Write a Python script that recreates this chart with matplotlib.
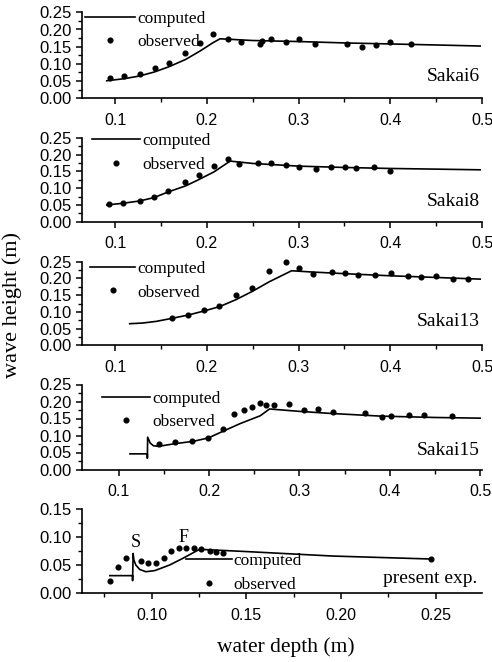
import matplotlib
matplotlib.use("Agg")
import matplotlib.pyplot as plt
from matplotlib.lines import Line2D
from matplotlib.ticker import MultipleLocator, FormatStrFormatter

# ---- data ----
s6_obs_x = [0.0946, 0.110, 0.127, 0.1435, 0.159, 0.1768, 0.1924, 0.207, 0.223, 0.237,
            0.258, 0.2605, 0.270, 0.286, 0.3007, 0.318, 0.353, 0.369, 0.3846, 0.400, 0.4225]
s6_obs_y = [0.060, 0.065, 0.071, 0.087, 0.102, 0.133, 0.160, 0.186, 0.173, 0.164,
            0.158, 0.166, 0.1715, 0.1645, 0.1715, 0.159, 0.159, 0.149, 0.154, 0.163, 0.158]
s6_comp_x = [0.091, 0.110, 0.127, 0.1435, 0.159, 0.177, 0.193, 0.207, 0.2145,
             0.25, 0.30, 0.35, 0.40, 0.45, 0.498]
s6_comp_y = [0.051, 0.057, 0.065, 0.077, 0.092, 0.113, 0.138, 0.162, 0.173,
             0.168, 0.165, 0.161, 0.158, 0.155, 0.152]

s8_obs_x = [0.0935, 0.109, 0.127, 0.1425, 0.158, 0.1767, 0.191, 0.2083, 0.2236, 0.2349,
            0.2556, 0.270, 0.286, 0.3007, 0.3192, 0.3355, 0.3508, 0.3628, 0.3828, 0.400]
s8_obs_y = [0.054, 0.056, 0.063, 0.073, 0.092, 0.120, 0.140, 0.166, 0.186, 0.171,
            0.174, 0.176, 0.169, 0.164, 0.157, 0.162, 0.164, 0.159, 0.162, 0.152]
s8_comp_x = [0.091, 0.1085, 0.127, 0.1425, 0.158, 0.177, 0.190, 0.208, 0.2254,
             0.25, 0.30, 0.35, 0.40, 0.45, 0.498]
s8_comp_y = [0.050, 0.055, 0.062, 0.072, 0.089, 0.107, 0.124, 0.149, 0.181,
             0.174, 0.166, 0.162, 0.159, 0.157, 0.155]

s13_obs_x = [0.1617, 0.180, 0.197, 0.213, 0.2318, 0.2496, 0.268, 0.286, 0.3004, 0.316,
             0.337, 0.3505, 0.365, 0.383, 0.4003, 0.4195, 0.434, 0.4497, 0.4686, 0.485]
s13_obs_y = [0.083, 0.092, 0.105, 0.118, 0.150, 0.173, 0.222, 0.248, 0.230, 0.213,
             0.218, 0.215, 0.210, 0.210, 0.215, 0.207, 0.203, 0.207, 0.198, 0.198]
s13_comp_x = [0.116, 0.13, 0.145, 0.162, 0.180, 0.197, 0.214, 0.232, 0.250, 0.268,
              0.2925, 0.316, 0.36, 0.40, 0.45, 0.498]
s13_comp_y = [0.065, 0.067, 0.072, 0.081, 0.091, 0.103, 0.116, 0.137, 0.162, 0.190,
              0.223, 0.219, 0.213, 0.208, 0.203, 0.198]

s15_obs_x = [0.1452, 0.1626, 0.1817, 0.1988, 0.216, 0.228, 0.239, 0.2475, 0.256, 0.2633,
             0.2714, 0.289, 0.3047, 0.3206, 0.3368, 0.373, 0.3915, 0.4014, 0.4217, 0.4375, 0.469]
s15_obs_y = [0.075, 0.080, 0.083, 0.093, 0.118, 0.163, 0.176, 0.184, 0.195, 0.191,
             0.191, 0.193, 0.175, 0.178, 0.170, 0.165, 0.155, 0.158, 0.161, 0.161, 0.158]
s15_comp_x = [0.1127, 0.1319, 0.1319, 0.1322, 0.135, 0.1385, 0.144, 0.1626, 0.183, 0.1995,
              0.216, 0.2345, 0.2567, 0.267, 0.30, 0.334, 0.39, 0.45, 0.50]
s15_comp_y = [0.046, 0.046, 0.033, 0.095, 0.078, 0.070, 0.068, 0.076, 0.083, 0.093,
              0.113, 0.135, 0.158, 0.178, 0.171, 0.165, 0.157, 0.153, 0.151]

exp_obs_x = [0.0781, 0.0824, 0.0865, 0.0944, 0.0982, 0.1026, 0.1066, 0.1105, 0.1145,
             0.1184, 0.1223, 0.1263, 0.1307, 0.1342, 0.138, 0.2474]
exp_obs_y = [0.021, 0.047, 0.063, 0.057, 0.054, 0.053, 0.063, 0.075, 0.0806,
             0.081, 0.0806, 0.078, 0.075, 0.0735, 0.072, 0.0607]
exp_comp_x = [0.078, 0.090, 0.090, 0.0903, 0.0907, 0.0917, 0.0938, 0.097, 0.1017, 0.1096,
              0.1166, 0.1237, 0.1254, 0.15, 0.1956, 0.2474]
exp_comp_y = [0.031, 0.031, 0.022, 0.0706, 0.059, 0.050, 0.042, 0.038, 0.040, 0.050,
              0.062, 0.075, 0.078, 0.074, 0.066, 0.0607]

panels = [
    ("Sakai6", s6_obs_x, s6_obs_y, s6_comp_x, s6_comp_y),
    ("Sakai8", s8_obs_x, s8_obs_y, s8_comp_x, s8_comp_y),
    ("Sakai13", s13_obs_x, s13_obs_y, s13_comp_x, s13_comp_y),
    ("Sakai15", s15_obs_x, s15_obs_y, s15_comp_x, s15_comp_y),
    ("present exp.", exp_obs_x, exp_obs_y, exp_comp_x, exp_comp_y),
]

# ---- layout (figure fractions) ----
W, H = 492, 662
boxes = [(12.3, 98.3), (138, 221.7), (261.7, 345.5), (384.5, 469.5), (509, 593)]
xlims = [(0.064, 0.5), (0.064, 0.5), (0.064, 0.5), (0.0596, 0.502), (0.0633, 0.2745)]
ylims = [0.25, 0.25, 0.25, 0.25, 0.15]
# legend: line left edge (axes frac), line row y, dot row y, handle length
legpos = [(0.0075, 0.93, 0.651, 2.9), (0.024, 0.955, 0.689, 2.8),
          (0.020, 0.91, 0.635, 2.6), (0.049, 0.83, 0.555, 2.8),
          (0.259, 0.37, 0.107, 2.65)]
labpos = [0.25, 0.24, 0.284, 0.218, 0.175]

serif = "Liberation Serif"
sans = "Liberation Sans"

fig = plt.figure(figsize=(W / 100, H / 100), dpi=100)

for i, (name, ox, oy, cx, cy) in enumerate(panels):
    top, bot = boxes[i]
    ax = fig.add_axes([82 / W, 1 - bot / H, 400 / W, (bot - top) / H])
    ax.plot(cx, cy, color="black", lw=1.2)
    ax.plot(ox, oy, "o", color="black", ms=3.4, mec="black", clip_on=False)
    ax.set_xlim(*xlims[i])
    ax.set_ylim(0, ylims[i])
    ax.spines["top"].set_visible(False)
    ax.spines["right"].set_visible(False)
    for s in ("left", "bottom"):
        ax.spines[s].set_linewidth(1.2)
    if i < 4:
        ax.xaxis.set_major_locator(MultipleLocator(0.1))
        ax.xaxis.set_minor_locator(MultipleLocator(0.05))
        ax.xaxis.set_major_formatter(FormatStrFormatter("%.1f"))
    else:
        ax.xaxis.set_major_locator(MultipleLocator(0.05))
        ax.xaxis.set_minor_locator(MultipleLocator(0.025))
        ax.xaxis.set_major_formatter(FormatStrFormatter("%.2f"))
    ax.yaxis.set_major_locator(MultipleLocator(0.05))
    ax.yaxis.set_minor_locator(MultipleLocator(0.025))
    ax.yaxis.set_major_formatter(FormatStrFormatter("%.2f"))
    ax.tick_params(which="major", direction="out", length=4.5, width=1.1)
    ax.tick_params(which="minor", direction="out", length=3, width=1.0)
    ax.tick_params(axis="x", labelsize=11.5, pad=6)
    ax.tick_params(axis="y", labelsize=12, pad=3)
    for lab in ax.get_xticklabels() + ax.get_yticklabels():
        lab.set_fontfamily(sans)

    ax.text(0.995 if i < 4 else 0.987, labpos[i], name, transform=ax.transAxes,
            ha="right", va="center", fontsize=14, family=serif)

    lx, ly1, ly2, hl = legpos[i]
    handles = [Line2D([], [], color="black", lw=1.2),
               Line2D([], [], ls="none", marker="o", color="black", ms=3.4)]
    ax.legend(handles, ["computed", "observed"], loc="center left",
              bbox_to_anchor=(lx, (ly1 + ly2) / 2), frameon=False,
              borderpad=0, borderaxespad=0, handlelength=hl, handletextpad=0.1,
              labelspacing=0.42, prop={"family": serif, "size": 12.5})

    if i == 4:
        ax.text(0.0915, 0.090, "S", ha="center", va="center", fontsize=13, family=serif)
        ax.text(0.117, 0.100, "F", ha="center", va="center", fontsize=13, family=serif)

fig.text(0.024, 0.54, "wave height (m)", rotation=90, ha="center", va="center",
         fontsize=16, family=serif)
fig.text(0.581, 0.023, "water depth (m)", ha="center", va="center",
         fontsize=15.5, family=serif)

fig.savefig("out.png", dpi=100)
